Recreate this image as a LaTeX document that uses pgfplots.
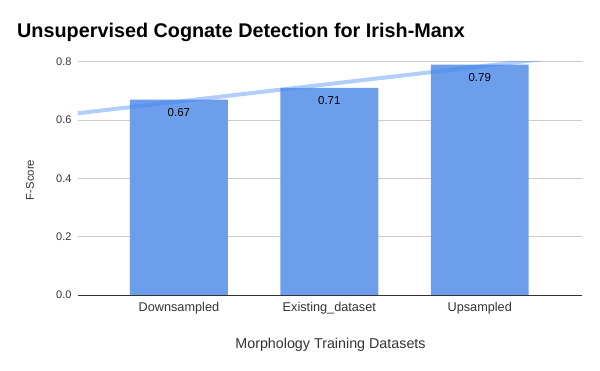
\documentclass[border=0pt]{standalone}
\usepackage{fontspec}
\setmainfont{Liberation Sans}
\usepackage{pgfplots}
\pgfplotsset{compat=1.18}

\definecolor{barblue}{HTML}{6D9EEB}
\definecolor{trendblue}{HTML}{4285F4}
\definecolor{gridgray}{HTML}{CCCCCC}
\definecolor{txtgray}{HTML}{333333}

\begin{document}
\begin{tikzpicture}
\path[use as bounding box] (0,0) rectangle (600bp,371bp);
\node[anchor=base west, inner sep=0pt, font=\fontsize{19.8bp}{24bp}\selectfont\bfseries] at (17bp,333.3bp)
  {Unsupervised Cognate Detection for Irish-Manx};
\begin{axis}[
  at={(78bp,76bp)}, anchor=south west,
  scale only axis, width=504bp, height=233.4bp,
  xmin=-0.671, xmax=2.68,
  ymin=0, ymax=0.8,
  xtick={0,1,2},
  xticklabels={Downsampled, Existing\_dataset, Upsampled},
  ytick={0,0.2,0.4,0.6,0.8},
  yticklabel style={/pgf/number format/fixed, /pgf/number format/precision=1,
    /pgf/number format/fixed zerofill, /pgf/number format/assume math mode=true,
    font=\fontsize{11bp}{13bp}\selectfont, text=txtgray, xshift=-3bp},
  xticklabel style={font=\fontsize{12.7bp}{14bp}\selectfont, text=txtgray, yshift=-4bp},
  major tick length=0pt,
  axis x line*=bottom, axis y line*=left,
  x axis line style={draw=txtgray, line width=0.8bp, -},
  y axis line style={draw=none},
  ymajorgrids, grid style={draw=gridgray, line width=0.75bp},
  xlabel={Morphology Training Datasets},
  ylabel={F-Score},
  xlabel style={at={(axis description cs:0.501,-0.212)}, anchor=center,
    font=\fontsize{14.3bp}{16bp}\selectfont, text=txtgray},
  ylabel style={at={(axis description cs:-0.0952,0.493)}, anchor=center,
    font=\fontsize{11.3bp}{13bp}\selectfont, text=txtgray},
  clip=true,
]
\addplot[ybar, bar width=0.651, fill=barblue, draw=none,
  nodes near coords={\pgfmathprintnumber[fixed,precision=2,assume math mode=true]{\pgfplotspointmeta}},
  nodes near coords style={anchor=center, yshift=-13bp, text=black,
    font=\fontsize{11.5bp}{13bp}\selectfont}]
  coordinates {(0,0.67) (1,0.71) (2,0.79)};
\addplot[trendblue, opacity=0.4, line width=4bp]
  coordinates {(-0.671,0.623) (2.5,0.8133)};
\end{axis}
\end{tikzpicture}
\end{document}
